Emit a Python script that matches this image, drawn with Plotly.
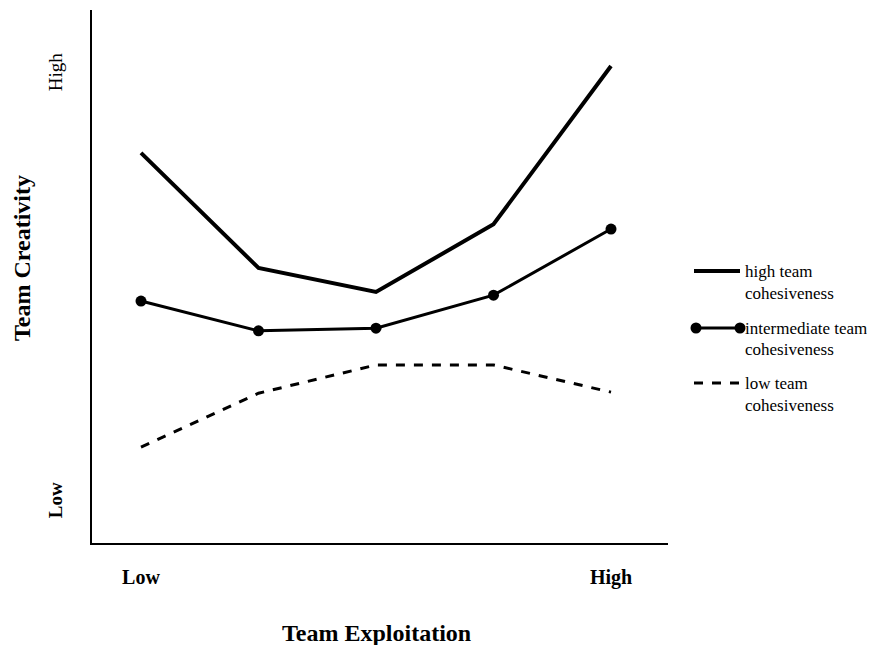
import plotly.graph_objects as go

# ---- data ----
x_levels = [0, 1, 2, 3, 4]
high_cohesiveness = [7.32, 5.16, 4.71, 5.98, 8.95]
intermediate_cohesiveness = [4.54, 3.98, 4.03, 4.65, 5.89]
low_cohesiveness = [1.80, 2.81, 3.34, 3.34, 2.83]

x_tick_vals = [0, 4]
x_tick_text = ["Low", "High"]
y_tick_vals = [0.75, 8.78]
y_tick_text = ["<b>Low</b>", "High"]

series_names = ["high team cohesiveness", "intermediate team cohesiveness", "low team cohesiveness"]

OFF = 8  # page body margin
W, H = 875 - OFF, 645 - OFF
L, T = 92 - OFF, 10 - OFF
R = W - (668 - OFF)
B = H - (543 - OFF)
PW, PH = W - L - R, H - T - B

def px(xp):
    return (xp - OFF - L) / PW

def py(yp):
    return (H - B - (yp - OFF)) / PH

SERIF = "Liberation Serif, Times New Roman, serif"

fig = go.Figure()
fig.add_trace(go.Scatter(x=x_levels, y=high_cohesiveness, mode="lines",
                         line=dict(color="black", width=4), name=series_names[0], showlegend=False))
fig.add_trace(go.Scatter(x=x_levels, y=intermediate_cohesiveness, mode="lines+markers",
                         line=dict(color="black", width=3), marker=dict(color="black", size=11),
                         name=series_names[1], showlegend=False))
fig.add_trace(go.Scatter(x=x_levels, y=low_cohesiveness, mode="lines",
                         line=dict(color="black", width=3, dash="dash"), name=series_names[2], showlegend=False))

shapes = []
annotations = []

# manual legend
legend_rows = [
    (271, ["high team", "cohesiveness"], 293, "solid", 4, False),
    (328, ["intermediate team", "cohesiveness"], 349, "solid", 3, True),
    (383, ["low team", "cohesiveness"], 405, "dash", 3, False),
]
for (ly, texts, ly2, dash, wdt, mk) in legend_rows:
    shapes.append(dict(type="line", xref="paper", yref="paper",
                       x0=px(694), x1=px(740), y0=py(ly), y1=py(ly),
                       line=dict(color="black", width=wdt, dash=dash)))
    if mk:
        for cx in (696, 740):
            shapes.append(dict(type="circle", xref="paper", yref="paper",
                               x0=px(cx - 5.5), x1=px(cx + 5.5), y0=py(ly + 5.5), y1=py(ly - 5.5),
                               fillcolor="black", line=dict(color="black", width=0)))
    annotations.append(dict(text=texts[0], xref="paper", yref="paper", x=px(743), y=py(ly),
                            xanchor="left", yanchor="middle", showarrow=False,
                            font=dict(family=SERIF, size=17, color="black")))
    annotations.append(dict(text=texts[1], xref="paper", yref="paper", x=px(743), y=py(ly2),
                            xanchor="left", yanchor="middle", showarrow=False,
                            font=dict(family=SERIF, size=17, color="black")))

# axis titles
annotations.append(dict(text="<b>Team Exploitation</b>", xref="paper", yref="paper",
                        x=px(376), y=py(633), xanchor="center", yanchor="middle", showarrow=False,
                        font=dict(family=SERIF, size=24, color="black")))
annotations.append(dict(text="<b>Team Creativity</b>", xref="paper", yref="paper",
                        x=px(22), y=py(258), xanchor="center", yanchor="middle", showarrow=False,
                        textangle=-90, font=dict(family=SERIF, size=24, color="black")))

fig.update_layout(
    width=W, height=H,
    margin=dict(l=L, r=R, t=T, b=B, autoexpand=False),
    paper_bgcolor="white", plot_bgcolor="white",
    shapes=shapes, annotations=annotations,
    xaxis=dict(range=[-0.417, 4.485], showgrid=False, zeroline=False,
               showline=True, linecolor="black", linewidth=2,
               tickvals=x_tick_vals, ticktext=x_tick_text, ticks="",
               ticklabelstandoff=15,
               tickfont=dict(family=SERIF, size=20, color="black", weight="bold")),
    yaxis=dict(range=[0, 10], showgrid=False, zeroline=False,
               showline=True, linecolor="black", linewidth=2,
               tickvals=y_tick_vals, ticktext=y_tick_text, ticks="",
               tickangle=-90, ticklabelstandoff=20,
               tickfont=dict(family=SERIF, size=19, color="black")),
)

fig.write_html("out.html")
